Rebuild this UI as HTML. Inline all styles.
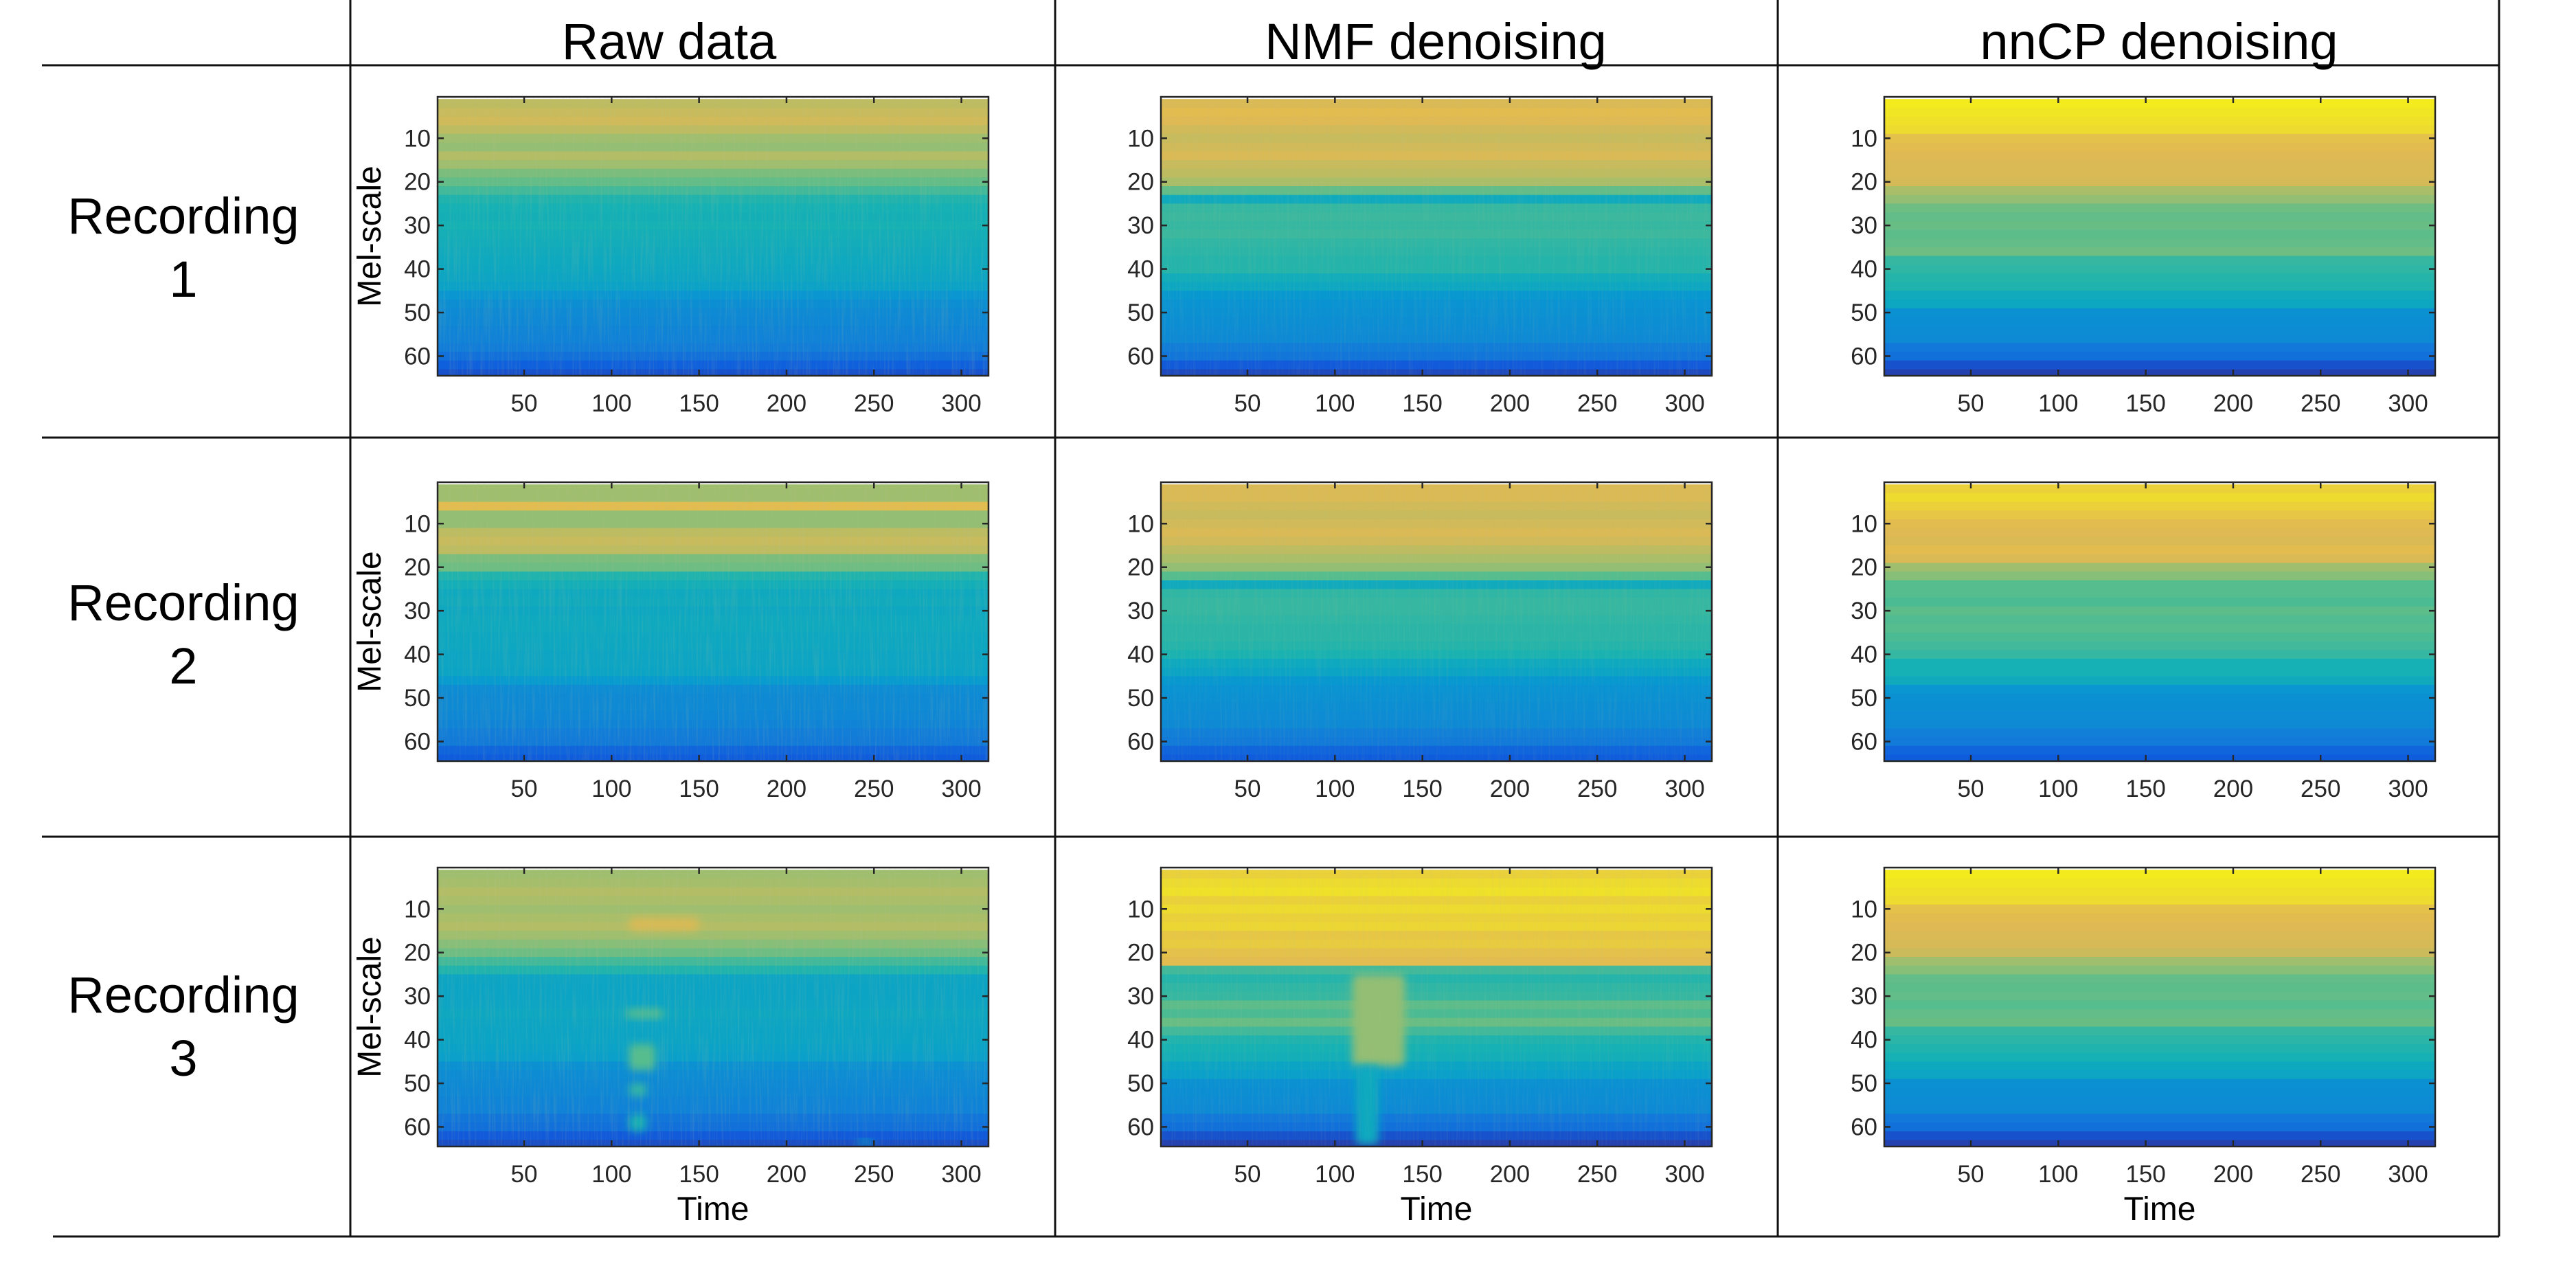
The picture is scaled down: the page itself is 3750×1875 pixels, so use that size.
<!DOCTYPE html>
<html><head><meta charset="utf-8"><style>
html,body{margin:0;padding:0;background:#fff;}
svg{display:block;font-family:"Liberation Sans",Arial,sans-serif;}
</style></head><body>
<svg id="fig" width="3750" height="1875" viewBox="0 0 3750 1875" xmlns="http://www.w3.org/2000/svg">
<defs>
<filter id="streak" x="0" y="0" width="100%" height="100%">
<feTurbulence type="fractalNoise" baseFrequency="0.35 0.012" numOctaves="2" seed="3"/>
<feColorMatrix type="matrix" values="0 0 0 0 0.5  0 0 0 0 0.55  0 0 0 0 0.3  0 0 0 -3 1.6"/>
</filter>
<filter id="soft" x="-50%" y="-50%" width="200%" height="200%"><feGaussianBlur stdDeviation="6"/></filter>
</defs>
<g id="table" stroke="#111" stroke-width="3">
<line x1="61" y1="95" x2="3638" y2="95"/>
<line x1="61" y1="637" x2="3638" y2="637"/>
<line x1="61" y1="1218" x2="3638" y2="1218"/>
<line x1="77" y1="1800" x2="3638" y2="1800"/>
<line x1="510" y1="0" x2="510" y2="1800"/>
<line x1="1536" y1="0" x2="1536" y2="1800"/>
<line x1="2588" y1="0" x2="2588" y2="1800"/>
<line x1="3638" y1="0" x2="3638" y2="1800"/>
</g>
<g font-size="74" text-anchor="middle" fill="#000">
<text x="974" y="86">Raw data</text>
<text x="2090" y="86">NMF denoising</text>
<text x="3143" y="86">nnCP denoising</text>
<text x="267" y="340">Recording<tspan x="267" dy="92">1</tspan></text>
<text x="267" y="903">Recording<tspan x="267" dy="92">2</tspan></text>
<text x="267" y="1474">Recording<tspan x="267" dy="92">3</tspan></text>
</g>
<g id="panels"></g>
</svg>
<script>
// Mel-band profiles (32 values = pairs of mel bins 1..64), normalized 0..1 colour level
const melTicks = [10,20,30,40,50,60];
const timeTicks = [50,100,150,200,250,300];
const timeMax = 315;
const melMax = 64;
const rec1Raw  = [0.80,0.82,0.84,0.80,0.74,0.72,0.78,0.74,0.68,0.64,0.58,0.52,0.50,0.49,0.50,0.48,0.47,0.46,0.45,0.44,0.43,0.41,0.35,0.32,0.30,0.29,0.28,0.27,0.25,0.20,0.14,0.10];
const rec1Nmf  = [0.86,0.88,0.87,0.84,0.82,0.84,0.86,0.82,0.80,0.76,0.64,0.46,0.56,0.57,0.56,0.57,0.55,0.54,0.53,0.53,0.47,0.44,0.36,0.34,0.33,0.32,0.31,0.30,0.25,0.22,0.12,0.08];
const rec1Ncp  = [0.97,0.96,0.95,0.94,0.89,0.88,0.87,0.86,0.86,0.85,0.76,0.72,0.66,0.64,0.65,0.63,0.64,0.66,0.56,0.55,0.53,0.52,0.46,0.44,0.33,0.32,0.31,0.30,0.23,0.20,0.10,0.06];
const rec2Raw  = [0.74,0.74,0.88,0.72,0.72,0.80,0.82,0.80,0.68,0.66,0.52,0.48,0.45,0.46,0.44,0.45,0.45,0.44,0.44,0.43,0.43,0.42,0.37,0.31,0.30,0.30,0.29,0.28,0.25,0.24,0.16,0.13];
const rec2Nmf  = [0.86,0.86,0.84,0.82,0.84,0.86,0.84,0.80,0.76,0.72,0.62,0.46,0.55,0.56,0.56,0.55,0.54,0.54,0.53,0.51,0.45,0.42,0.36,0.34,0.33,0.32,0.31,0.30,0.26,0.24,0.16,0.13];
const rec2Ncp  = [0.92,0.94,0.92,0.90,0.88,0.87,0.86,0.88,0.86,0.74,0.70,0.62,0.62,0.60,0.63,0.61,0.62,0.60,0.58,0.56,0.50,0.50,0.46,0.35,0.33,0.32,0.31,0.30,0.26,0.24,0.16,0.13];
const rec3Raw  = [0.74,0.75,0.78,0.76,0.74,0.76,0.78,0.74,0.70,0.66,0.58,0.52,0.43,0.42,0.42,0.43,0.44,0.43,0.42,0.42,0.41,0.40,0.33,0.31,0.30,0.29,0.28,0.27,0.22,0.20,0.12,0.09];
const rec3Nmf  = [0.92,0.94,0.95,0.92,0.94,0.92,0.93,0.90,0.91,0.89,0.88,0.58,0.53,0.55,0.56,0.63,0.60,0.65,0.58,0.52,0.50,0.48,0.42,0.40,0.33,0.32,0.31,0.30,0.23,0.20,0.10,0.06];
const rec3Ncp  = [0.97,0.96,0.95,0.94,0.89,0.88,0.87,0.86,0.85,0.83,0.74,0.70,0.64,0.63,0.64,0.62,0.64,0.65,0.56,0.54,0.52,0.50,0.45,0.43,0.33,0.32,0.31,0.30,0.23,0.20,0.10,0.06];
// localized events: [timeStart, timeEnd, melStart, melEnd, level]
const rec3RawEvents = [[110,150,12,15,0.86],[108,130,33,35,0.62],[110,125,41,47,0.62],[110,120,50,53,0.55],[110,120,57,61,0.50],[240,250,63,64,0.45]];
const rec3NmfEvents = [[110,140,25,46,0.72],[112,125,46,64,0.45]];
const noneEvents = [];

const parula = [[53,42,135],[15,92,221],[18,125,216],[7,156,207],[21,177,180],[89,189,140],[165,190,107],[225,185,82],[249,251,14]];
function cmap(v){v=Math.max(0,Math.min(1,v));const p=v*8,i=Math.min(7,Math.floor(p)),f=p-i;const a=parula[i],b=parula[i+1];
return 'rgb('+a.map((c,k)=>Math.round(c+(b[k]-c)*f)).join(',')+')';}

const NS='http://www.w3.org/2000/svg';
function mk(tag,attrs,parent){const e=document.createElementNS(NS,tag);for(const k in attrs)e.setAttribute(k,attrs[k]);parent.appendChild(e);return e;}

const colX=[637,1690,2743], rowY=[141,702,1263], PW=802, PH=406;
const panels=[
 [rec1Raw,noneEvents,0.13],[rec1Nmf,noneEvents,0.08],[rec1Ncp,noneEvents,0],
 [rec2Raw,noneEvents,0.13],[rec2Nmf,noneEvents,0.08],[rec2Ncp,noneEvents,0],
 [rec3Raw,rec3RawEvents,0.13],[rec3Nmf,rec3NmfEvents,0.08],[rec3Ncp,noneEvents,0]];
const colNames=['raw','nmf','nncp'];
const root=document.getElementById('panels');
panels.forEach((pd,idx)=>{
 const r=Math.floor(idx/3),c=idx%3,x0=colX[c],y0=rowY[r];
 const xs=t=>x0+(t-0.5)/timeMax*PW;
 const ys=m=>y0+(m-0.5)/melMax*PH;
 const g=mk('g',{},root);
 
 
 const clipId='clip'+idx;
 const cp=mk('clipPath',{id:clipId},g);
 mk('rect',{x:x0,y:y0,width:PW,height:PH},cp);
 const body=mk('g',{'clip-path':'url(#'+clipId+')'},g);
 
 
 const prof=pd[0];
 prof.forEach((v,i)=>{
  const m0=i*2+1;
  const cell=mk('rect',{x:x0,y:ys(m0),width:PW,height:ys(m0+2)-ys(m0)+0.6,fill:cmap(v)},body);
  
  
 });
 pd[1].forEach(ev=>{
  const e=mk('rect',{x:xs(ev[0]),y:ys(ev[2]),width:xs(ev[1])-xs(ev[0]),height:ys(ev[3])-ys(ev[2]),fill:cmap(ev[4]),rx:8,filter:'url(#soft)'},body);
  
  
 });
 if(pd[2]>0){
  const n=mk('rect',{x:x0,y:y0,width:PW,height:PH,filter:'url(#streak)',opacity:pd[2]},body);
  
  
 }
 const fr=mk('rect',{x:x0,y:y0,width:PW,height:PH,fill:'none',stroke:'#262626','stroke-width':2.5},g);
 
 
 const ax=mk('g',{stroke:'#262626','stroke-width':2.5},g);
 
 
 timeTicks.forEach(t=>{mk('line',{x1:xs(t),x2:xs(t),y1:y0+PH,y2:y0+PH-9},ax);mk('line',{x1:xs(t),x2:xs(t),y1:y0,y2:y0+9},ax);});
 melTicks.forEach(m=>{mk('line',{x1:x0,x2:x0+9,y1:ys(m),y2:ys(m)},ax);mk('line',{x1:x0+PW,x2:x0+PW-9,y1:ys(m),y2:ys(m)},ax);});
 const tl=mk('g',{'font-size':35,fill:'#262626','text-anchor':'middle'},g);
 
 
 timeTicks.forEach(t=>{const tx=mk('text',{x:xs(t),y:y0+PH+52},tl);tx.textContent=t;});
 const yl=mk('g',{'font-size':35,fill:'#262626','text-anchor':'end'},g);
 
 
 melTicks.forEach(m=>{const tx=mk('text',{x:x0-10,y:ys(m)+12},yl);tx.textContent=m;});
 if(c===0){
  const lab=mk('text',{x:0,y:0,'font-size':48,fill:'#000','text-anchor':'middle',transform:'translate('+(x0-83)+','+(y0+PH/2)+') rotate(-90)'},g);
  
  
  lab.textContent='Mel-scale';
 }
 if(r===2){
  const lab=mk('text',{x:x0+PW/2,y:y0+PH+107,'font-size':48,fill:'#000','text-anchor':'middle'},g);
  
  
  lab.textContent='Time';
 }
});
</script>
</body></html>
